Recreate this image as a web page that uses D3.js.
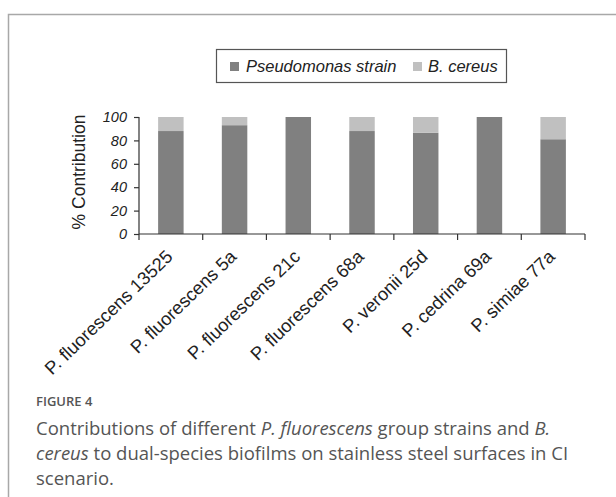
<!DOCTYPE html>
<html><head><meta charset="utf-8">
<script src="https://cdn.jsdelivr.net/npm/d3@7"></script>
<style>
html,body{margin:0;padding:0;background:#fff;}
svg{display:block;}
.ar{font-family:"Liberation Sans", Arial, sans-serif;}
.it{font-style:italic;}
</style></head>
<body>
<svg id="c" width="616" height="497"></svg>
<script>
const categories = ["P. fluorescens 13525","P. fluorescens 5a","P. fluorescens 21c","P. fluorescens 68a","P. veronii 25d","P. cedrina 69a","P. simiae 77a"];
const pseudomonas = [88, 93, 100, 88, 86.5, 100, 81];
const bcereus = [12, 7, 0, 12, 13.5, 0, 19];
const yTicks = [0, 20, 40, 60, 80, 100];
const seriesNames = ["Pseudomonas strain", "B. cereus"];
const seriesColors = ["#808080", "#c0c0c0"];

const svg = d3.select("#c");
// frame
svg.append("path").attr("d","M8.5,640 L8.5,14.5 L640,14.5").attr("fill","none").attr("stroke","#a8a8a8").attr("stroke-width",1.5);

const x = d3.scaleBand().domain(categories).range([139, 585]).paddingInner(0.6).paddingOuter(0.3);
const y = d3.scaleLinear().domain([0, 100]).range([234, 117]);

const stackData = categories.map((c,i)=>({cat:c, s0:pseudomonas[i], s1:bcereus[i]}));
const stack = d3.stack().keys(["s0","s1"])(stackData);
const g = svg.append("g");
stack.forEach((layer, li)=>{
  g.selectAll(null).data(layer).enter().append("rect")
   .attr("x", d=>x(d.data.cat)).attr("width", x.bandwidth())
   .attr("y", d=>y(d[1])).attr("height", d=>y(d[0])-y(d[1]))
   .attr("fill", seriesColors[li]);
});

// y axis
const ya = svg.append("g").attr("transform","translate(139,0)")
 .call(d3.axisLeft(y).tickValues(yTicks).tickSize(5).tickPadding(7));
ya.attr("font-family", null).attr("font-size", null);
ya.select(".domain").attr("stroke","#333").attr("stroke-width",1.2).attr("d","M-5,117.5H0V234");
ya.selectAll(".tick line").attr("stroke","#333").attr("stroke-width",1.2);
ya.selectAll("text").attr("class","ar it").attr("font-size",14.5).style("font-style","italic").attr("fill","#222");

// x axis line and ticks at boundaries
svg.append("line").attr("x1",139).attr("x2",585).attr("y1",234).attr("y2",234).attr("stroke","#333").attr("stroke-width",1.2);
d3.range(categories.length+1).forEach(i=>{
  const xx = 139 + i*(446/categories.length);
  svg.append("line").attr("x1",xx).attr("x2",xx).attr("y1",234).attr("y2",240).attr("stroke","#333").attr("stroke-width",1.2);
});
categories.forEach(c=>{
  const cx = x(c)+x.bandwidth()/2;
  svg.append("text").attr("class","ar").attr("transform",`translate(${cx+3},${258}) rotate(-44)`)
   .attr("text-anchor","end")
   .attr("font-size",18.3).attr("fill","#222").text(c);
});

// y label
svg.append("text").attr("class","ar").attr("transform","translate(85,172) rotate(-90)").attr("text-anchor","middle")
 .attr("font-size",17.5).attr("fill","#222").text("% Contribution");

// legend
svg.append("rect").attr("x",216.5).attr("y",49.5).attr("width",290).attr("height",33).attr("fill","#fff").attr("stroke","#555").attr("stroke-width",1.2);
const lg = [{x:230, tx:246}, {x:413, tx:428}];
seriesNames.forEach((n,i)=>{
  svg.append("rect").attr("x",lg[i].x).attr("y",62).attr("width",9).attr("height",9).attr("fill",seriesColors[i]);
  svg.append("text").attr("class","ar it").attr("x",lg[i].tx).attr("y",72)
   .attr("font-size",16.5).attr("fill","#222").text(n);
});

// caption
svg.append("text").attr("x",36).attr("y",406).attr("font-family","'Open Sans', sans-serif").attr("font-size",13).attr("font-weight",600).attr("fill","#555").text("FIGURE 4");
const cap = svg.append("g").attr("font-family","'Open Sans', sans-serif").attr("font-size",18.5).attr("fill","#555");
const l1 = cap.append("text").attr("x",36).attr("y",435);
l1.append("tspan").text("Contributions of different ");
l1.append("tspan").attr("font-style","italic").text("P. fluorescens");
l1.append("tspan").text(" group strains and ");
l1.append("tspan").attr("font-style","italic").text("B.");
const l2 = cap.append("text").attr("x",36).attr("y",460);
l2.append("tspan").attr("font-style","italic").text("cereus");
l2.append("tspan").text(" to dual-species biofilms on stainless steel surfaces in CI");
cap.append("text").attr("x",36).attr("y",485).text("scenario.");
</script>
</body></html>
